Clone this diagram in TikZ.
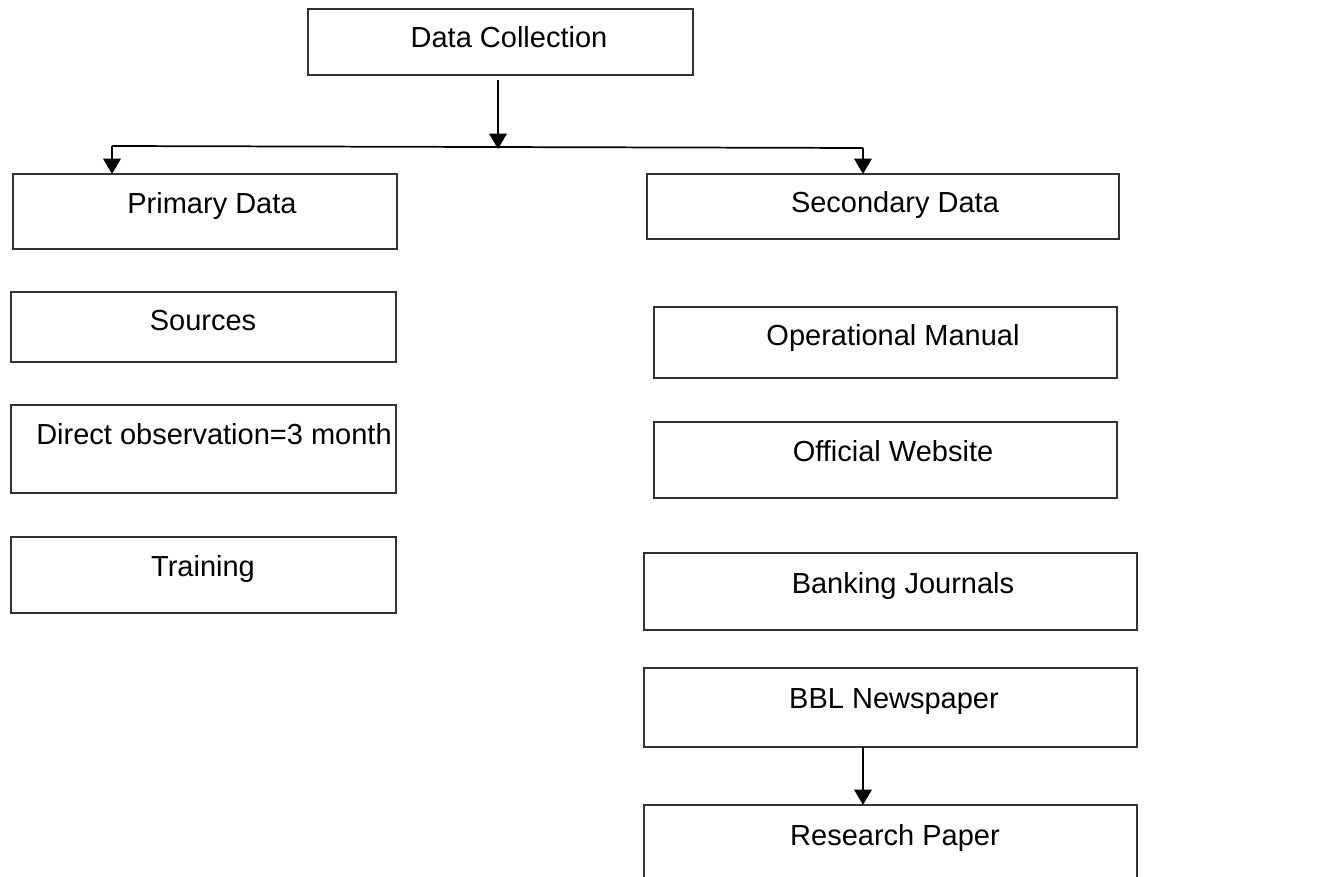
\documentclass[tikz,border=0pt]{standalone}
\usepackage{fontspec}
\setmainfont{Liberation Sans}
\usetikzlibrary{arrows.meta}
\begin{document}
\begin{tikzpicture}[x=0.75pt,y=-0.75pt,
  box/.style={draw=black!80, line width=0.8pt, inner sep=0pt, outer sep=0pt},
  lbl/.style={anchor=base, inner sep=0pt, font=\fontsize{21.75}{26}\selectfont},
  conn/.style={line width=1.3pt, black},
  arr/.style={line width=1.7pt, black, -{Triangle[length=11.5pt,width=13pt]}}]
\useasboundingbox (0,0) rectangle (1325,877);
\clip (0,0) rectangle (1325,877);
\fill[white] (0,0) rectangle (1325,877);
% boxes
\node[box, minimum width=288.75pt, minimum height=49.5pt] (dc) at (500.5,42) {};
\node[box, minimum width=288pt, minimum height=56.25pt] (pd) at (205,211.5) {};
\node[box, minimum width=354pt, minimum height=48.75pt] (sd) at (883,206.5) {};
\node[box, minimum width=288.75pt, minimum height=52.5pt] (src) at (203.5,327) {};
\node[box, minimum width=288.75pt, minimum height=66pt] (dir) at (203.5,449) {};
\node[box, minimum width=288.75pt, minimum height=57pt] (trn) at (203.5,575) {};
\node[box, minimum width=347.25pt, minimum height=53.25pt] (op) at (885.5,342.5) {};
\node[box, minimum width=347.25pt, minimum height=57pt] (ow) at (885.5,460) {};
\node[box, minimum width=369.75pt, minimum height=57.75pt] (bj) at (890.5,591.5) {};
\node[box, minimum width=369.75pt, minimum height=59.25pt] (bbl) at (890.5,707.5) {};
\node[box, minimum width=369.75pt, minimum height=75pt] (rp) at (890.5,855) {};
% labels
\node[lbl] (tdc) at (509,48) {Data Collection};
\node[lbl] (tpd) at (212,214) {Primary Data};
\node[lbl] (tsd) at (895,213) {Secondary Data};
\node[lbl] (tsrc) at (203,331) {Sources};
\node[lbl] (tdir) at (214,444) {Direct observation=3 month};
\node[lbl] (ttrn) at (203,576) {Training};
\node[lbl] (top) at (893,346) {Operational Manual};
\node[lbl] (tow) at (893,461) {Official Website};
\node[lbl] (tbj) at (903,593) {Banking Journals};
\node[lbl] (tbbl) at (894,708) {BBL Newspaper};
\node[lbl] (trp) at (895,845) {Research Paper};
% connectors
\coordinate (J) at (498,149);
\coordinate (S) at ([yshift=-3.75pt]dc.south);
\coordinate (L) at (112,146);
\coordinate (R) at (863,148);
\draw[arr] (S -| J) -- (J);
\draw[conn] (L) -- (R);
\draw[arr] (L) -- (L |- pd.north);
\draw[arr] (R) -- (R |- sd.north);
\draw[arr] (bbl.south -| R) -- (rp.north -| R);
\end{tikzpicture}
\end{document}
